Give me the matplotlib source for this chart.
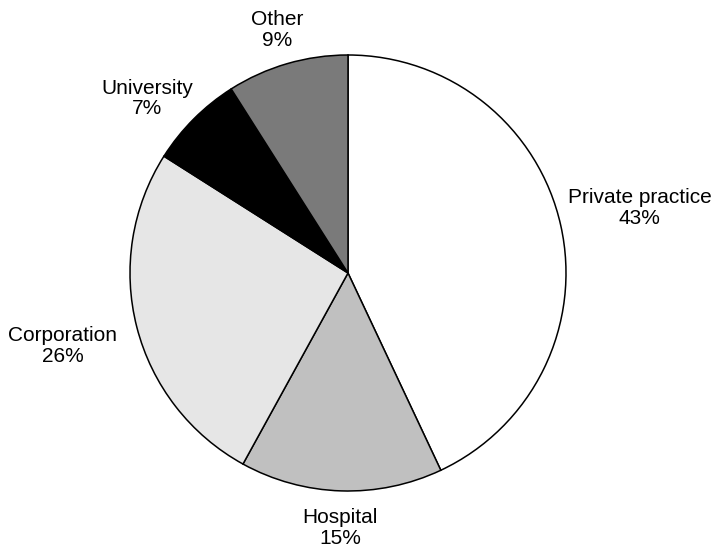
import matplotlib
matplotlib.use("Agg")
import matplotlib.pyplot as plt
import numpy as np

categories = ["Private practice", "Hospital", "Corporation", "University", "Other"]
values = [43, 15, 26, 7, 9]
colors = ["#ffffff", "#c0c0c0", "#e6e6e6", "#000000", "#7a7a7a"]

W, H = 717, 550
fig = plt.figure(figsize=(W / 100, H / 100), dpi=100)
ax = fig.add_axes([0, 0, 1, 1])
ax.set_xlim(0, W)
ax.set_ylim(0, H)
ax.set_aspect("equal")
ax.axis("off")

cx, cy, r = 348, H - 273, 218
wedges, _ = ax.pie(values, colors=colors, startangle=90, counterclock=False,
                   center=(cx, cy), radius=r,
                   wedgeprops=dict(edgecolor="black", linewidth=1.1))
ax.set_xlim(0, W)
ax.set_ylim(0, H)

# label distance (in radii) and small angle adjustment (deg) per wedge
label_dist = [1.37, 1.17, 1.35, 1.22, 1.16]
label_adj = [0, 0, 0, 4, 0]
for w, cat, v, d, a in zip(wedges, categories, values, label_dist, label_adj):
    ang = np.deg2rad((w.theta1 + w.theta2) / 2 + a)
    x = cx + d * r * np.cos(ang)
    y = cy + d * r * np.sin(ang)
    ax.text(x, y, f"{cat}\n{v}%", ha="center", va="center", fontsize=15,
            family="Liberation Sans", linespacing=1.12)

fig.savefig("out.png", dpi=100)
